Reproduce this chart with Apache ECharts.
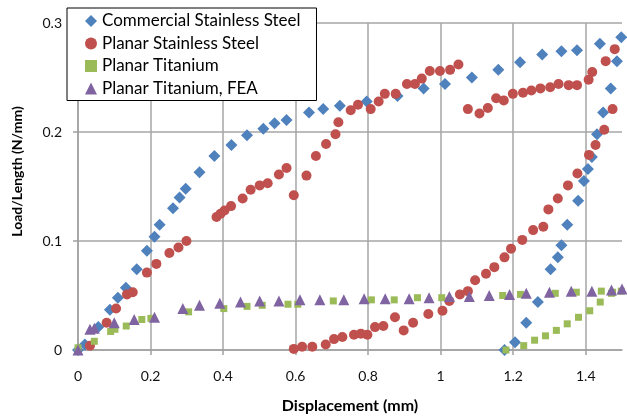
<!DOCTYPE html>
<html>
<head>
<meta charset="utf-8">
<script src="https://cdn.jsdelivr.net/npm/echarts@6/dist/echarts.min.js"></script>
<style>html,body{margin:0;padding:0;background:#fff}#c{width:627px;height:419px}</style>
</head>
<body>
<div id="c"></div>
<script>
const seriesNames = ['Commercial Stainless Steel', 'Planar Stainless Steel', 'Planar Titanium', 'Planar Titanium, FEA'];
const xTicks = [0, 0.2, 0.4, 0.6, 0.8, 1, 1.2, 1.4];
const yTicks = [0, 0.1, 0.2, 0.3];

const commercialSS = [
  [0,0],[0.019,0.005],[0.056,0.021],[0.088,0.037],[0.11,0.048],[0.132,0.057],[0.162,0.074],
  [0.19,0.091],[0.211,0.104],[0.225,0.115],[0.262,0.130],[0.280,0.140],[0.297,0.148],[0.335,0.163],
  [0.376,0.178],[0.423,0.188],[0.466,0.197],[0.511,0.203],[0.542,0.208],[0.575,0.211],[0.637,0.218],
  [0.676,0.221],[0.722,0.224],[0.796,0.228],[0.881,0.233],[0.953,0.240],[1.012,0.244],[1.086,0.250],
  [1.159,0.257],[1.219,0.264],[1.280,0.271],[1.333,0.274],[1.376,0.275],[1.439,0.281],[1.498,0.287],
  [1.486,0.265],[1.469,0.240],[1.448,0.218],[1.431,0.198],[1.417,0.177],[1.406,0.166],[1.395,0.155],
  [1.379,0.137],[1.349,0.115],[1.333,0.096],[1.323,0.085],[1.303,0.074],[1.268,0.044],[1.236,0.025],
  [1.205,0.007],[1.176,0.0]
];
const planarSS = [
  [0.033,0.004],[0.079,0.025],[0.105,0.038],[0.135,0.051],[0.151,0.053],[0.19,0.071],[0.216,0.079],
  [0.252,0.089],[0.277,0.094],[0.299,0.100],[0.382,0.122],[0.393,0.125],[0.404,0.128],[0.422,0.132],
  [0.454,0.139],[0.476,0.147],[0.501,0.151],[0.523,0.153],[0.554,0.161],[0.575,0.167],[0.595,0.142],
  [0.630,0.160],[0.656,0.178],[0.684,0.189],[0.710,0.198],[0.718,0.209],[0.752,0.220],[0.772,0.225],
  [0.807,0.221],[0.829,0.228],[0.846,0.235],[0.876,0.235],[0.907,0.244],[0.929,0.244],[0.948,0.249],
  [0.970,0.256],[0.998,0.256],[1.026,0.257],[1.049,0.262],[1.075,0.221],[1.107,0.217],[1.130,0.222],
  [1.153,0.231],[1.174,0.229],[1.199,0.235],[1.227,0.236],[1.250,0.238],[1.275,0.240],[1.302,0.241],
  [1.325,0.244],[1.353,0.243],[1.376,0.243],[1.408,0.248],[1.418,0.255],[1.455,0.265],[1.480,0.276],
  [1.501,0.284],[1.474,0.221],[1.451,0.202],[1.427,0.188],[1.409,0.179],[1.377,0.162],[1.351,0.151],
  [1.323,0.139],[1.297,0.129],[1.283,0.113],[1.255,0.110],[1.225,0.101],[1.194,0.093],[1.176,0.085],
  [1.148,0.076],[1.125,0.070],[1.095,0.064],[1.075,0.054],[1.053,0.051],[1.024,0.045],[1.005,0.036],
  [0.966,0.033],[0.924,0.025],[0.898,0.018],[0.874,0.030],[0.842,0.022],[0.819,0.021],[0.798,0.014],
  [0.780,0.015],[0.761,0.014],[0.729,0.012],[0.706,0.010],[0.683,0.005],[0.646,0.003],[0.618,0.003],
  [0.595,0.001]
];
const planarTi = [
  [0,0.002],[0.045,0.008],[0.09,0.017],[0.102,0.019],[0.133,0.022],[0.176,0.028],[0.201,0.029],
  [0.305,0.035],[0.402,0.038],[0.466,0.040],[0.508,0.041],[0.579,0.042],[0.606,0.042],[0.704,0.045],
  [0.809,0.046],[0.872,0.046],[0.936,0.048],[1.003,0.048],[1.171,0.050],[1.220,0.051],[1.316,0.052],
  [1.374,0.053],[1.443,0.054],[1.474,0.053],[1.498,0.054],[1.180,0.0],[1.229,0.004],[1.259,0.009],
  [1.289,0.013],[1.319,0.018],[1.349,0.024],[1.380,0.030],[1.411,0.036],[1.440,0.044],[1.471,0.052]
];
const planarTiFEA = [
  [0,0],[0.033,0.019],[0.045,0.020],[0.1,0.025],[0.155,0.028],[0.211,0.030],[0.289,0.038],[0.335,0.041],
  [0.391,0.043],[0.448,0.044],[0.501,0.045],[0.554,0.045],[0.612,0.046],[0.667,0.046],[0.733,0.046],
  [0.789,0.047],[0.847,0.047],[0.913,0.047],[0.968,0.048],[1.024,0.049],[1.079,0.049],[1.134,0.050],
  [1.190,0.051],[1.236,0.052],[1.300,0.053],[1.360,0.054],[1.417,0.054],[1.471,0.055],[1.500,0.056]
];

const colors = ['#4F81BD', '#C0504D', '#9BBB59', '#8064A2'];
const symbols = ['diamond', 'circle', 'rect', 'triangle'];
const sizes = [12, 10, 7, 11];
const datasets = [commercialSS, planarSS, planarTi, planarTiFEA];
const FONT = 'Lato';

const chart = echarts.init(document.getElementById('c'), null, {renderer: 'canvas'});
chart.setOption({
  animation: false,
  backgroundColor: '#fff',
  grid: {left: 78, right: 5, top: 23, bottom: 66},
  legend: {
    orient: 'vertical', left: 67, top: 8,
    backgroundColor: '#fff', borderColor: '#000', borderWidth: 1,
    padding: [4, 16, 3, 18], itemGap: 4.5, itemWidth: 12, itemHeight: 12,
    textStyle: {fontFamily: FONT, fontSize: 17, lineHeight: 18, color: '#000'},
    data: seriesNames.map((n, i) => ({name: n, icon: symbols[i]}))
  },
  xAxis: {
    type: 'value', min: 0, max: 1.5, interval: 0.2,
    name: 'Displacement (mm)', nameLocation: 'middle', nameGap: 48,
    nameTextStyle: {fontFamily: FONT, fontSize: 16, fontWeight: 'bold', color: '#000'},
    axisLine: {show: true, lineStyle: {color: '#a0a0a0', width: 1.5}},
    axisTick: {show: true, length: 5, lineStyle: {color: '#a0a0a0', width: 1.5}},
    axisLabel: {fontFamily: FONT, fontSize: 14, color: '#111', margin: 19, showMaxLabel: false,
      formatter: v => xTicks.includes(+v.toFixed(1)) ? String(+v.toFixed(1)) : ''},
    splitLine: {show: true, showMaxLine: false, lineStyle: {color: '#a6a6a6', width: 1.5}}
  },
  yAxis: {
    type: 'value', min: 0, max: 0.3, interval: 0.1,
    name: 'Load/Length (N/mm)', nameLocation: 'middle', nameGap: 54, nameRotate: 90,
    nameTextStyle: {fontFamily: FONT, fontSize: 14, fontWeight: 'bold', color: '#000', padding: [0, 0, 0, 30]},
    axisLine: {show: true, lineStyle: {color: '#a0a0a0', width: 1.5}},
    axisTick: {show: true, length: 5, lineStyle: {color: '#a0a0a0', width: 1.5}},
    axisLabel: {fontFamily: FONT, fontSize: 14, color: '#111', margin: 16,
      formatter: v => yTicks.includes(+v.toFixed(1)) ? String(+v.toFixed(1)) : ''},
    splitLine: {show: true, lineStyle: {color: '#a6a6a6', width: 1.5}}
  },
  series: datasets.map((d, i) => ({
    name: seriesNames[i], type: 'scatter', data: d,
    symbol: symbols[i], symbolSize: sizes[i],
    itemStyle: {color: colors[i], opacity: 1},
    z: 2 + i
  }))
});
</script>
</body>
</html>
